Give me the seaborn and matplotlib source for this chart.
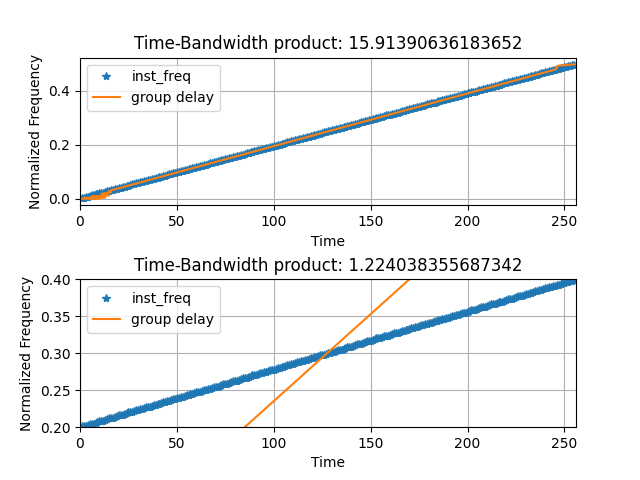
import numpy as np
import pandas as pd
import seaborn as sns
import matplotlib
matplotlib.use("Agg")
import matplotlib.pyplot as plt

# instantaneous frequency of the first (long) chirp, one value per sample
inst_freq_1 = [
    .002, .004, .006, .008, .010, .012, .014, .016, .018, .020, .021, .023, .025, .027, .029, .031,
    .033, .035, .037, .039, .041, .043, .045, .047, .049, .051, .053, .055, .057, .059, .061, .062,
    .064, .066, .068, .070, .072, .074, .076, .078, .080, .082, .084, .086, .088, .090, .092, .094,
    .096, .098, .100, .102, .104, .105, .107, .109, .111, .113, .115, .117, .119, .121, .123, .125,
    .127, .129, .131, .133, .135, .137, .139, .141, .143, .145, .146, .148, .150, .152, .154, .156,
    .158, .160, .162, .164, .166, .168, .170, .172, .174, .176, .178, .180, .182, .184, .186, .188,
    .189, .191, .193, .195, .197, .199, .201, .203, .205, .207, .209, .211, .213, .215, .217, .219,
    .221, .223, .225, .227, .229, .230, .232, .234, .236, .238, .240, .242, .244, .246, .248, .250,
    .252, .254, .256, .258, .260, .262, .264, .266, .268, .270, .271, .273, .275, .277, .279, .281,
    .283, .285, .287, .289, .291, .293, .295, .297, .299, .301, .303, .305, .307, .309, .311, .312,
    .314, .316, .318, .320, .322, .324, .326, .328, .330, .332, .334, .336, .338, .340, .342, .344,
    .346, .348, .350, .352, .354, .355, .357, .359, .361, .363, .365, .367, .369, .371, .373, .375,
    .377, .379, .381, .383, .385, .387, .389, .391, .393, .395, .396, .398, .400, .402, .404, .406,
    .408, .410, .412, .414, .416, .418, .420, .422, .424, .426, .428, .430, .432, .434, .436, .438,
    .439, .441, .443, .445, .447, .449, .451, .453, .455, .457, .459, .461, .463, .465, .467, .469,
    .471, .473, .475, .477, .479, .480, .482, .484, .486, .488, .490, .492, .494, .496, .498,
]

# instantaneous frequency of the second (short, windowed) chirp
inst_freq_2 = [
    .201, .202, .202, .203, .204, .205, .205, .206, .207, .208, .209, .209, .210, .211, .212, .213,
    .213, .214, .215, .216, .216, .217, .218, .219, .220, .220, .221, .222, .223, .223, .224, .225,
    .226, .227, .227, .228, .229, .230, .230, .231, .232, .233, .234, .234, .235, .236, .237, .238,
    .238, .239, .240, .241, .241, .242, .243, .244, .245, .245, .246, .247, .248, .248, .249, .250,
    .251, .252, .252, .253, .254, .255, .255, .256, .257, .258, .259, .259, .260, .261, .262, .263,
    .263, .264, .265, .266, .266, .267, .268, .269, .270, .270, .271, .272, .273, .273, .274, .275,
    .276, .277, .277, .278, .279, .280, .280, .281, .282, .283, .284, .284, .285, .286, .287, .288,
    .288, .289, .290, .291, .291, .292, .293, .294, .295, .295, .296, .297, .298, .298, .299, .300,
    .301, .302, .302, .303, .304, .305, .305, .306, .307, .308, .309, .309, .310, .311, .312, .313,
    .313, .314, .315, .316, .316, .317, .318, .319, .320, .320, .321, .322, .323, .323, .324, .325,
    .326, .327, .327, .328, .329, .330, .330, .331, .332, .333, .334, .334, .335, .336, .337, .338,
    .338, .339, .340, .341, .341, .342, .343, .344, .345, .345, .346, .347, .348, .348, .349, .350,
    .351, .352, .352, .353, .354, .355, .355, .356, .357, .358, .359, .359, .360, .361, .362, .363,
    .363, .364, .365, .366, .366, .367, .368, .369, .370, .370, .371, .372, .373, .373, .374, .375,
    .376, .377, .377, .378, .379, .380, .380, .381, .382, .383, .384, .384, .385, .386, .387, .388,
    .388, .389, .390, .391, .391, .392, .393, .394, .395, .395, .396, .397, .398, .398, .399,
]

# group delay (time) vs normalized frequency
gd_freq_1 = [0.000, 0.001, 0.003, 0.005, 0.008, 0.012, 0.018, 0.024, 0.029,
             0.479, 0.484, 0.490, 0.494, 0.496, 0.498, 0.499]
gd_time_1 = [0, 10, 2, 13, 6, 15, 11, 16, 15,
             245, 246, 246, 247, 250, 253, 256]
gd_freq_2 = [0.0, 0.1, 0.2, 0.3, 0.4, 0.5]
gd_time_2 = [0, 42.5, 85, 127.5, 170, 212.5]

titles = ["Time-Bandwidth product: 15.91390636183652",
          "Time-Bandwidth product: 1.224038355687342"]

fig, axes = plt.subplots(2, 1, figsize=(6.4, 4.8))
plt.subplots_adjust(hspace=0.5)

panels = [(inst_freq_1, gd_time_1, gd_freq_1), (inst_freq_2, gd_time_2, gd_freq_2)]
for i, (ax, (ifr, gdt, gdf)) in enumerate(zip(axes, panels)):
    t = list(range(1, len(ifr) + 1))
    sns.lineplot(x=t, y=ifr, ax=ax, marker="*", linestyle="", color="C0",
                 markeredgecolor="C0", markeredgewidth=1, markersize=6,
                 estimator=None, sort=False, label="inst_freq")
    sns.lineplot(x=gdt, y=gdf, ax=ax, color="C1", estimator=None, sort=False,
                 label="group delay")
    ax.set_xlim(0, 256)
    ax.grid(True)
    ax.set_title(titles[i])
    ax.set_xlabel("Time")
    ax.set_ylabel("Normalized Frequency")
    ax.legend(loc="upper left")

axes[1].set_ylim(0.2, 0.4)

plt.savefig("out.png", dpi=100)
